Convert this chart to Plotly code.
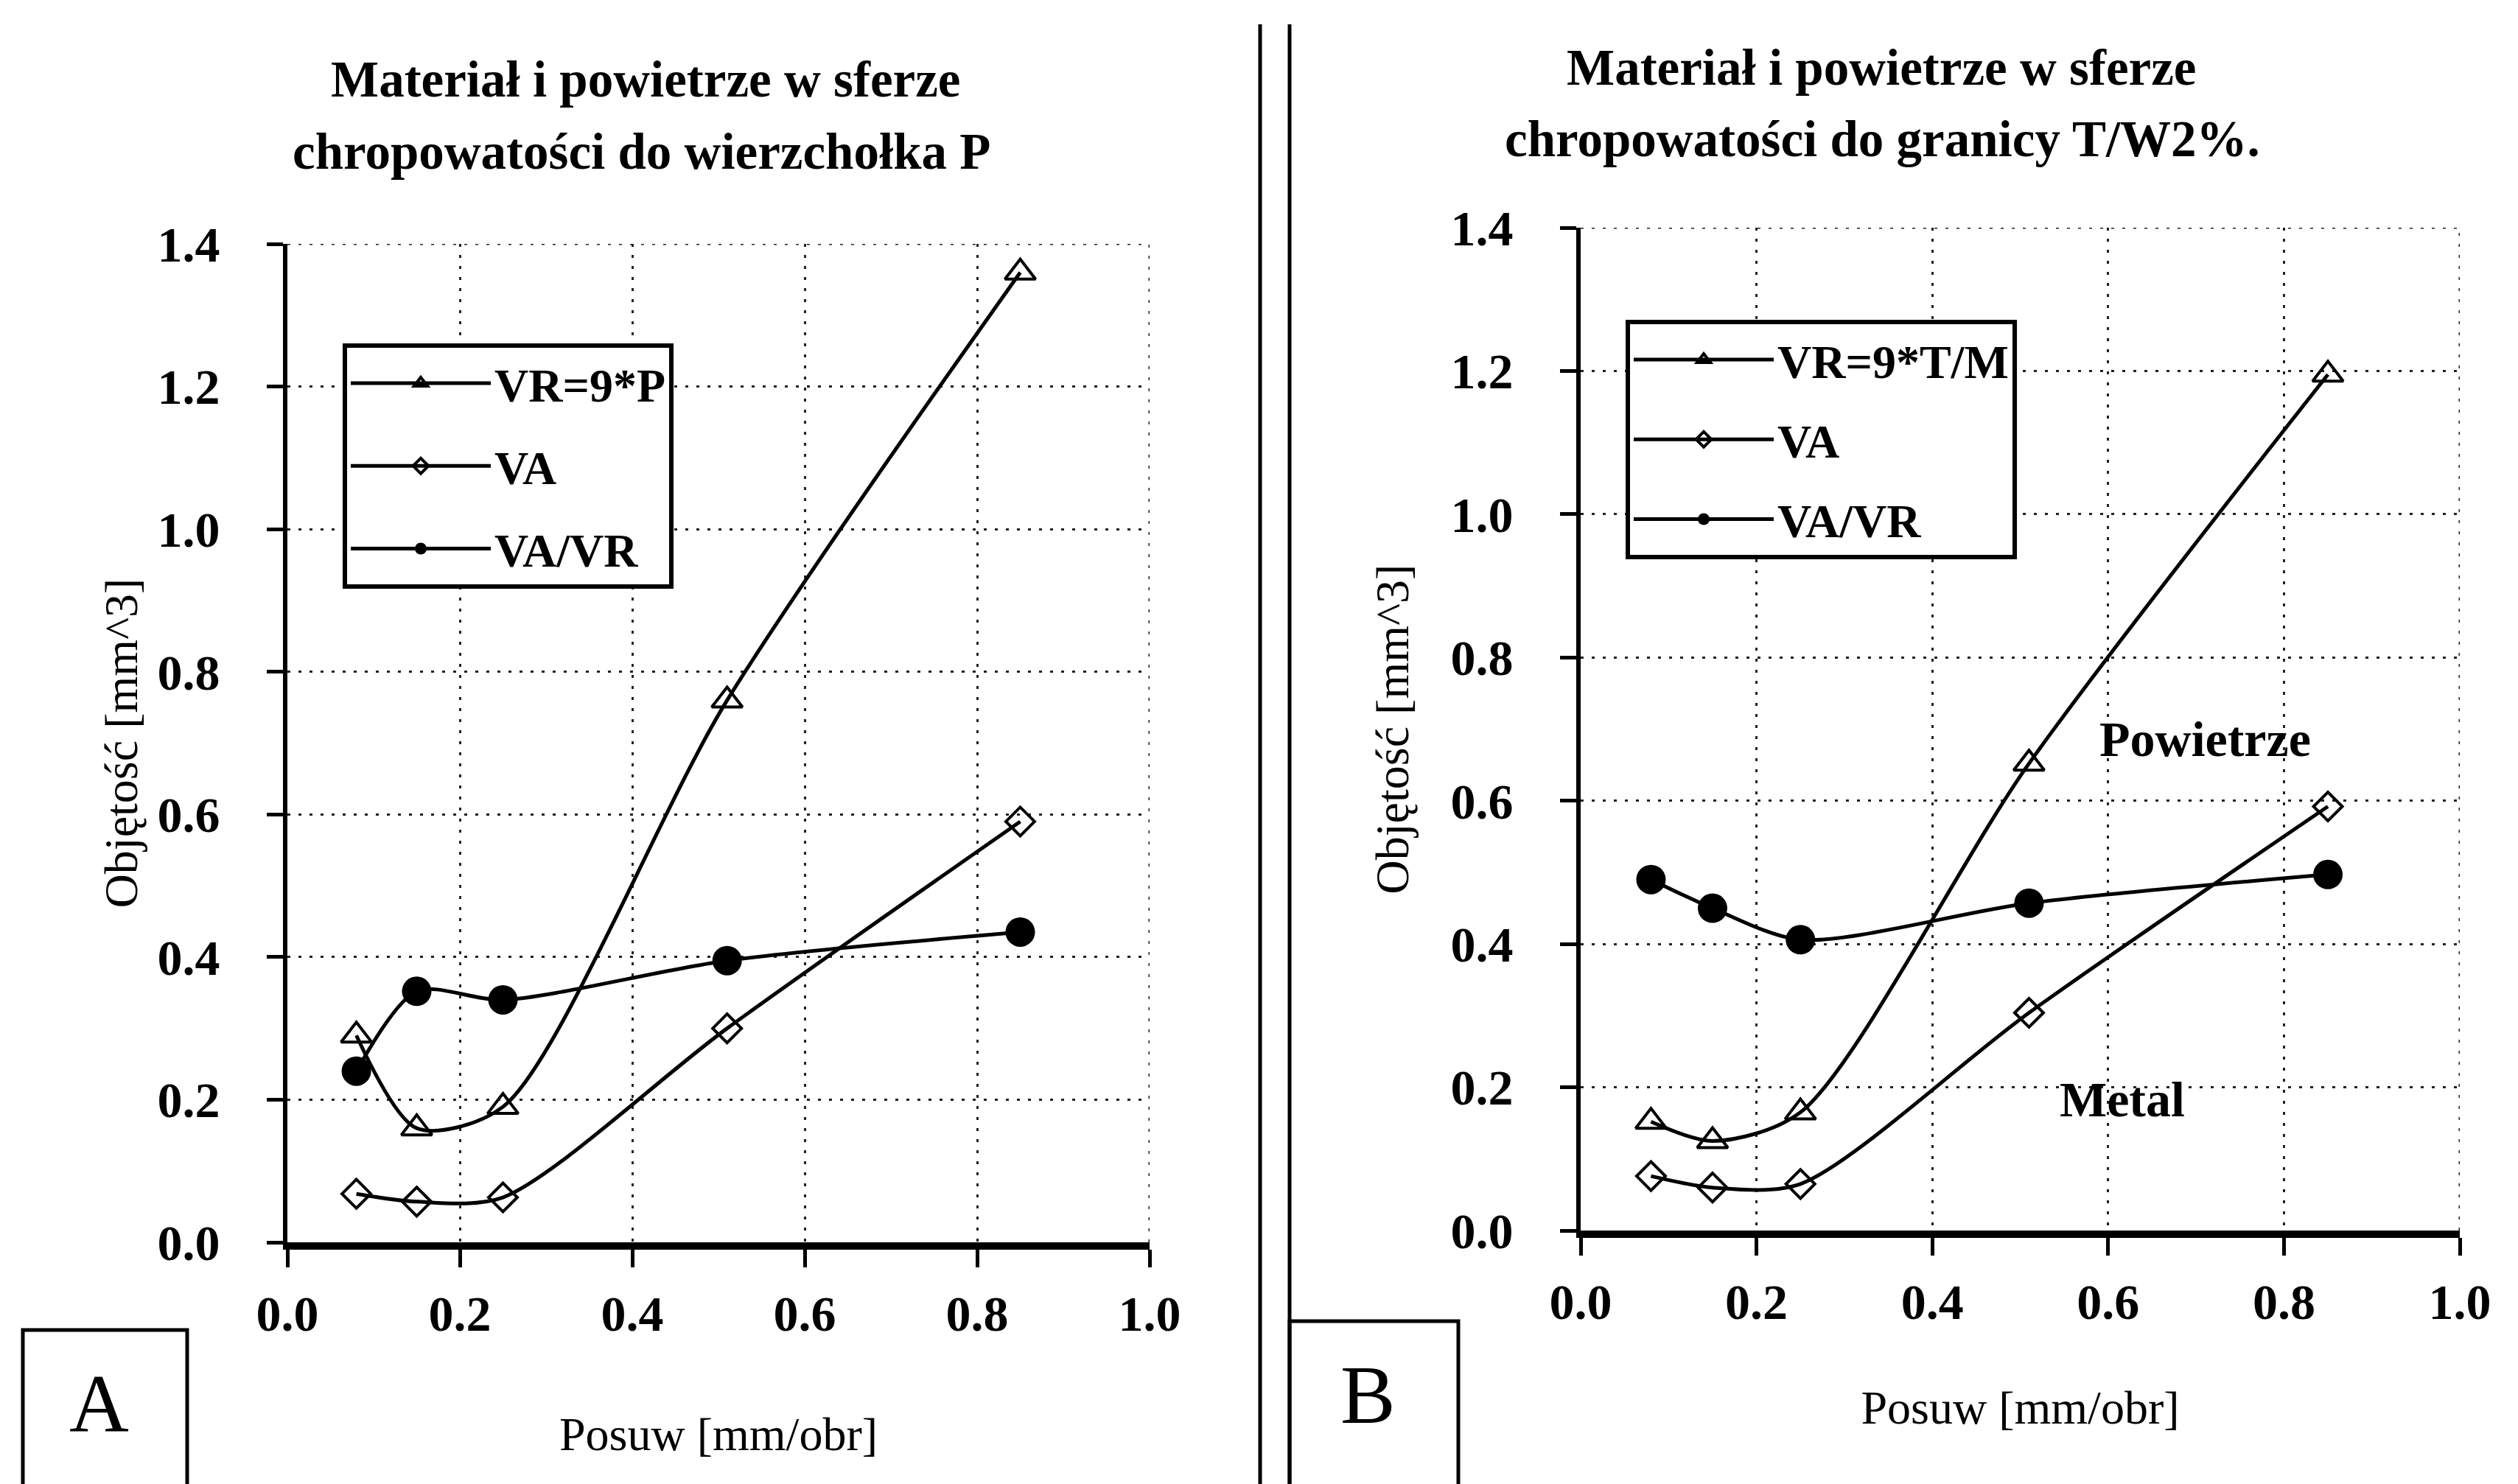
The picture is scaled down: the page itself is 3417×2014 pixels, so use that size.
import plotly.graph_objects as go

# ---------------- data ----------------
feed = [0.08, 0.15, 0.25, 0.51, 0.85]          # Posuw [mm/obr]

# Panel A – do wierzchołka P
a_vr = [0.29, 0.16, 0.19, 0.76, 1.36]
a_va = [0.068, 0.057, 0.063, 0.30, 0.59]
a_ratio = [0.24, 0.352, 0.34, 0.395, 0.435]
a_names = ["VR=9*P", "VA", "VA/VR"]

# Panel B – do granicy T/W2%
b_vr = [0.152, 0.125, 0.165, 0.652, 1.195]
b_va = [0.076, 0.06, 0.065, 0.304, 0.592]
b_ratio = [0.49, 0.45, 0.406, 0.457, 0.497]
b_names = ["VR=9*T/M", "VA", "VA/VR"]

x_ticks = [0.0, 0.2, 0.4, 0.6, 0.8, 1.0]
y_ticks = [0.0, 0.2, 0.4, 0.6, 0.8, 1.0, 1.2, 1.4]

# ---------------- style ----------------
W, H = 3417, 2014
FONT = "Liberation Serif"
BLACK = "#000000"


def px_x(p):
    return p / W


def px_y(p):
    return 1 - p / H


markers = [
    dict(symbol="triangle-up-open", size=36, color=BLACK, line=dict(width=4, color=BLACK)),
    dict(symbol="diamond-open", size=30, color=BLACK, line=dict(width=4, color=BLACK)),
    dict(symbol="circle", size=40, color=BLACK, line=dict(width=0, color=BLACK)),
]

fig = go.Figure()

for series, name, mk, grp in zip([a_vr, a_va, a_ratio], a_names, markers, ["a1", "a2", "a3"]):
    fig.add_trace(go.Scatter(
        x=feed, y=series, name=name, mode="lines+markers",
        line=dict(color=BLACK, width=5, shape="spline", smoothing=0.8),
        marker=mk, xaxis="x", yaxis="y", legend="legend", legendgroup=grp,
    ))

for series, name, mk, grp in zip([b_vr, b_va, b_ratio], b_names, markers, ["b1", "b2", "b3"]):
    fig.add_trace(go.Scatter(
        x=feed, y=series, name=name, mode="lines+markers",
        line=dict(color=BLACK, width=5, shape="spline", smoothing=0.8),
        marker=mk, xaxis="x2", yaxis="y2", legend="legend2", legendgroup=grp,
    ))

tickfont = dict(family=FONT, size=68, color=BLACK, weight="bold")
titlefont = dict(family=FONT, size=64, color=BLACK)


def xaxis(domain, anchor, standoff):
    return dict(
        domain=domain, anchor=anchor, range=[0, 1.0], automargin=False,
        tickvals=x_ticks, tickformat=".1f", tickfont=tickfont,
        showgrid=True, gridcolor="#222222", gridwidth=3, griddash="4px,11px",
        showline=True, linecolor=BLACK, linewidth=10,
        ticks="outside", ticklen=24, tickwidth=5, tickcolor=BLACK,
        ticklabelstandoff=4, zeroline=False,
        title=dict(text="Posuw [mm/obr]", font=titlefont, standoff=standoff),
    )


def yaxis(domain, anchor, standoff):
    return dict(
        domain=domain, anchor=anchor, range=[0, 1.4], automargin=False,
        tickvals=y_ticks, tickformat=".1f", tickfont=tickfont,
        showgrid=True, gridcolor="#222222", gridwidth=3, griddash="4px,11px",
        showline=True, linecolor=BLACK, linewidth=6,
        ticks="outside", ticklen=22, tickwidth=5, tickcolor=BLACK,
        ticklabelstandoff=50, zeroline=False,
        title=dict(text="Objętość [mm^3]", font=titlefont, standoff=standoff),
    )


legend_common = dict(
    bgcolor="white", bordercolor=BLACK, borderwidth=6,
    font=dict(family=FONT, size=64, color=BLACK, weight="bold"),
    itemwidth=190, xanchor="left", yanchor="top",
    itemclick=False, itemdoubleclick=False,
)

fig.update_layout(
    width=W, height=H, autosize=False,
    margin=dict(l=0, r=0, t=0, b=0, pad=0, autoexpand=False),
    paper_bgcolor="white", plot_bgcolor="white",
    font=dict(family=FONT, color=BLACK),
    xaxis=xaxis([px_x(390), px_x(1560)], "y", 108),
    yaxis=yaxis([px_y(1686), px_y(331)], "x", 8),
    xaxis2=xaxis([px_x(2145), px_x(3338)], "y2", 88),
    yaxis2=yaxis([px_y(1670), px_y(309)], "x2", 38),
    legend=dict(legend_common, x=px_x(465), y=px_y(466), tracegroupgap=26),
    legend2=dict(legend_common, x=px_x(2206), y=px_y(434), tracegroupgap=22),
    showlegend=True,
)

shapes = []
# dotted top/right frame of each plot area
for xr, yr in [("x", "y"), ("x2", "y2")]:
    shapes.append(dict(type="line", xref=xr, yref=yr, x0=0, x1=1.0, y0=1.4, y1=1.4,
                       line=dict(color="#222222", width=3, dash="4px,11px"), layer="below"))
    shapes.append(dict(type="line", xref=xr, yref=yr, x0=1.0, x1=1.0, y0=0, y1=1.4,
                       line=dict(color="#222222", width=3, dash="4px,11px"), layer="below"))
# double vertical divider
for xp in [1710, 1750]:
    shapes.append(dict(type="line", xref="paper", yref="paper", x0=px_x(xp), x1=px_x(xp),
                       y0=0, y1=px_y(33), line=dict(color=BLACK, width=5)))


def open_box(x0, x1, top):
    return "M{:.5f},0 L{:.5f},{:.5f} L{:.5f},{:.5f} L{:.5f},0".format(x0, x0, top, x1, top, x1)


# panel label boxes (bottom edge cut off by the page)
shapes.append(dict(type="path", xref="paper", yref="paper",
                   path=open_box(px_x(31), px_x(254), px_y(1805)), line=dict(color=BLACK, width=5)))
shapes.append(dict(type="path", xref="paper", yref="paper",
                   path=open_box(px_x(1750), px_x(1979), px_y(1793)), line=dict(color=BLACK, width=5)))

annotations = [
    dict(text="Materiał i powietrze w sferze", x=px_x(876), y=px_y(108)),
    dict(text="chropowatości do wierzchołka P", x=px_x(870), y=px_y(206)),
    dict(text="Materiał i powietrze w sferze", x=px_x(2553), y=px_y(92)),
    dict(text="chropowatości do granicy T/W2%.", x=px_x(2554), y=px_y(189)),
]
for a in annotations:
    a.update(xref="paper", yref="paper", showarrow=False, xanchor="center", yanchor="middle",
             font=dict(family=FONT, size=69, color=BLACK, weight="bold"))

annotations += [
    dict(text="A", x=px_x(134), y=px_y(1905), xref="paper", yref="paper", showarrow=False,
         xanchor="center", yanchor="middle", font=dict(family=FONT, size=112, color=BLACK)),
    dict(text="B", x=px_x(1856), y=px_y(1893), xref="paper", yref="paper", showarrow=False,
         xanchor="center", yanchor="middle", font=dict(family=FONT, size=112, color=BLACK)),
    dict(text="Powietrze", x=0.71, y=0.686, xref="x2", yref="y2", showarrow=False,
         xanchor="center", yanchor="middle", font=dict(family=FONT, size=68, color=BLACK, weight="bold")),
    dict(text="Metal", x=0.616, y=0.183, xref="x2", yref="y2", showarrow=False,
         xanchor="center", yanchor="middle", font=dict(family=FONT, size=68, color=BLACK, weight="bold")),
]

fig.update_layout(shapes=shapes, annotations=annotations)

fig.write_html("out.html")
